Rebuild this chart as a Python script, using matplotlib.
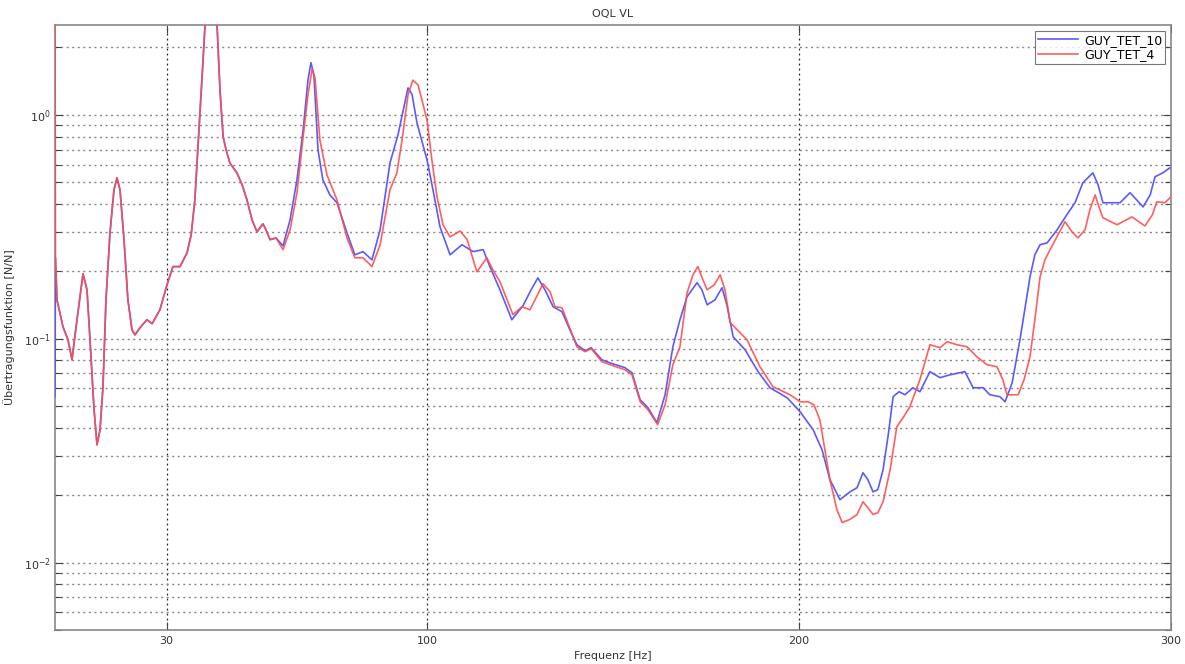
import matplotlib
matplotlib.use("Agg")
import matplotlib.pyplot as plt
from matplotlib.ticker import LogLocator, NullFormatter, FixedLocator

# ---------------- data ----------------
title_text = "OQL VL"
xlabel_text = "Frequenz [Hz]"
ylabel_text = "Übertragungsfunktion [N/N]"
series_names = ["GUY_TET_10", "GUY_TET_4"]
x_ticks = [30, 100, 200, 300]

# part shared by both measurements (0 .. ~61 Hz)
shared_f = [0.13, 0.54, 2.15, 3.49, 4.57, 5.91, 7.53, 8.6, 9.41, 10.5, 11.29, 12.1,
            12.9, 13.7, 14.78, 15.86, 16.67, 17.47, 18.55, 19.6, 20.7, 21.5, 22.85,
            24.7, 26.1, 28.2, 30.1, 31.7, 33.6, 35.5, 36.6, 37.6, 38.98, 39.8, 40.3,
            41.5, 43.5, 44.35, 45.2, 46.0, 47.0, 48.9, 50.3, 51.6, 52.96, 54.3, 55.9,
            56.7, 57.8, 59.4]
shared_v = [0.230, 0.149, 0.113, 0.099, 0.0806, 0.1216, 0.195, 0.1655, 0.099, 0.0482,
            0.0336, 0.0392, 0.0610, 0.149, 0.297, 0.463, 0.523, 0.463, 0.277, 0.149,
            0.1096, 0.104, 0.112, 0.1216, 0.1167, 0.1347, 0.174, 0.210, 0.210, 0.242,
            0.291, 0.417, 1.02, 1.76, 2.47, 6.0, 2.66, 1.29, 0.797, 0.698, 0.610,
            0.551, 0.487, 0.417, 0.340, 0.300, 0.326, 0.307, 0.277, 0.282]

blue_start_f = [0.0]
blue_start_v = [0.055]
blue_f = [61.3, 63.2, 65.05, 66.7, 68.0, 68.8, 69.6, 70.7, 72.0, 73.9, 75.8, 78.5,
          80.6, 82.8, 85.2, 87.4, 90.05, 92.2, 94.9, 96.0, 97.3, 100.0, 101.6, 103.5,
          106.2, 109.4, 112.4, 115.1, 116.9, 119.6, 122.8, 125.8, 128.0, 129.8,
          131.7, 133.9, 136.3, 138.4, 140.3, 142.5, 144.1, 147.0, 149.2, 153.2,
          155.1, 157.3, 159.4, 161.8, 164.0, 166.1, 168.0, 169.9, 172.6, 173.9,
          175.3, 177.4, 179.3, 180.6, 182.3, 185.5, 189.0, 192.2, 196.8, 200.3,
          203.8, 206.2, 208.3, 211.0, 213.7, 215.6, 217.2, 218.5, 219.9, 221.2,
          222.6, 224.0, 225.3, 226.9, 228.5, 230.6, 232.5, 235.2, 237.9, 240.6,
          244.6, 246.8, 249.5, 251.3, 254.0, 255.4, 257.3, 259.4, 262.1, 263.4,
          264.8, 266.7, 269.4, 272.0, 274.2, 276.3, 279.0, 280.4, 281.7, 286.3,
          289.0, 292.5, 294.4, 295.7, 297.8, 299.7]
blue_v = [0.260, 0.340, 0.513, 0.857, 1.43, 1.71, 1.51, 0.698, 0.513, 0.439, 0.405,
          0.297, 0.237, 0.245, 0.225, 0.307, 0.610, 0.814, 1.32, 1.23, 0.921, 0.630,
          0.463, 0.316, 0.237, 0.263, 0.245, 0.250, 0.210, 0.1655, 0.1216, 0.1404,
          0.1655, 0.187, 0.1655, 0.139, 0.132, 0.1096, 0.094, 0.0884, 0.0912, 0.0806,
          0.078, 0.0743, 0.0705, 0.0534, 0.0492, 0.0422, 0.0562, 0.0921, 0.1216,
          0.154, 0.178, 0.1655, 0.1418, 0.149, 0.169, 0.1418, 0.102, 0.0893, 0.0713,
          0.0604, 0.0545, 0.0472, 0.0392, 0.0319, 0.0235, 0.0191, 0.0207, 0.0216,
          0.0252, 0.0235, 0.0207, 0.0212, 0.0260, 0.0373, 0.0551, 0.058, 0.0562,
          0.0604, 0.058, 0.0713, 0.067, 0.069, 0.0713, 0.0604, 0.0604, 0.0562, 0.0551,
          0.0523, 0.0636, 0.099, 0.189, 0.237, 0.263, 0.268, 0.307, 0.358, 0.405,
          0.497, 0.551, 0.487, 0.405, 0.405, 0.449, 0.388, 0.439, 0.529, 0.551, 0.580]

red_start_f = [0.0]
red_start_v = [4.0]
red_f = [61.3, 63.2, 65.05, 66.7, 68.0, 69.1, 69.9, 71.2, 73.1, 75.8, 78.5, 80.6,
         82.8, 85.2, 87.4, 90.05, 91.9, 93.3, 94.9, 96.2, 97.6, 100.0, 101.3, 102.7,
         104.3, 106.2, 108.9, 110.8, 113.4, 116.1, 117.7, 119.6, 123.1, 125.5,
         127.7, 131.2, 133.1, 134.4, 136.3, 140.3, 142.5, 144.1, 147.0, 149.2,
         153.2, 155.1, 157.3, 159.4, 162.0, 164.0, 166.1, 168.0, 169.9, 171.5,
         172.8, 174.2, 175.3, 177.2, 178.8, 180.1, 181.5, 186.0, 189.5, 193.0,
         197.6, 200.3, 202.4, 204.0, 205.6, 208.3, 210.2, 211.6, 213.7, 215.6,
         217.2, 218.5, 219.9, 221.2, 222.6, 224.5, 226.3, 228.0, 229.8, 232.5,
         235.2, 237.9, 239.8, 242.5, 245.2, 247.8, 250.5, 253.2, 254.8, 255.9,
         258.9, 260.5, 262.1, 263.4, 264.8, 266.1, 267.5, 269.6, 271.5, 273.4,
         275.0, 276.9, 278.2, 279.6, 280.9, 281.7, 285.5, 289.5, 293.0, 295.0,
         296.2, 298.4, 299.7]
red_v = [0.250, 0.307, 0.449, 0.797, 1.23, 1.60, 1.46, 0.773, 0.540, 0.417, 0.282,
         0.230, 0.230, 0.210, 0.263, 0.463, 0.551, 0.773, 1.23, 1.43, 1.36, 0.950,
         0.630, 0.430, 0.323, 0.285, 0.303, 0.277, 0.199, 0.230, 0.203, 0.180, 0.128,
         0.139, 0.1347, 0.176, 0.162, 0.139, 0.1375, 0.092, 0.0875, 0.0905, 0.079,
         0.0766, 0.0727, 0.069, 0.0523, 0.0482, 0.0413, 0.0507, 0.0766, 0.092, 0.160,
         0.193, 0.210, 0.183, 0.1655, 0.174, 0.193, 0.1655, 0.118, 0.099, 0.075,
         0.061, 0.0562, 0.0523, 0.0523, 0.0507, 0.0435, 0.0235, 0.0172, 0.0151,
         0.0156, 0.0164, 0.0187, 0.0176, 0.0164, 0.0167, 0.0187, 0.0260, 0.0405,
         0.0444, 0.0497, 0.0656, 0.094, 0.0912, 0.097, 0.094, 0.092, 0.0831, 0.0766,
         0.075, 0.0656, 0.0562, 0.0562, 0.0656, 0.0831, 0.1216, 0.189, 0.225, 0.250,
         0.291, 0.333, 0.300, 0.282, 0.307, 0.377, 0.439, 0.377, 0.347, 0.323, 0.350,
         0.319, 0.358, 0.409, 0.405, 0.426]

# ---------------- figure ----------------
fig = plt.figure(figsize=(11.85, 6.64), dpi=100)
ax = fig.add_axes([55 / 1185, 1 - 630 / 664, (1171 - 55) / 1185, (630 - 25) / 664])

blue_color = "#5a5aff"
red_color = "#ff4d4d"

ax.plot(blue_start_f + shared_f + blue_f, blue_start_v + shared_v + blue_v,
        color=blue_color, lw=1.2, label=series_names[0], zorder=3)
ax.plot(red_start_f + shared_f + red_f, red_start_v + shared_v + red_v,
        color=red_color, lw=1.2, label=series_names[1], zorder=4, alpha=0.9)

ax.set_yscale("log")
ax.set_xlim(0, 300)
ax.set_ylim(0.005, 2.52)

ax.xaxis.set_major_locator(FixedLocator(x_ticks))
ax.set_xticklabels([str(t) for t in x_ticks])
ax.yaxis.set_major_locator(LogLocator(base=10, numticks=10))
ax.yaxis.set_minor_locator(LogLocator(base=10, subs=range(2, 10), numticks=20))
ax.yaxis.set_minor_formatter(NullFormatter())

ax.grid(True, which="both", axis="y", linestyle=(0, (1.5, 2.5)), color="#888888", lw=1.0)
ax.grid(True, which="major", axis="x", linestyle=(0, (1.5, 2.5)), color="#222222", lw=0.9)

ax.tick_params(axis="both", which="both", direction="in", top=True, right=True,
               labelsize=8, colors="#444444", labelcolor="#333333")
ax.tick_params(axis="both", which="major", length=6, width=0.8)
ax.tick_params(axis="y", which="minor", length=4, width=0.8)
ax.tick_params(axis="x", pad=4)
ax.tick_params(axis="y", pad=3)

for s in ax.spines.values():
    s.set_color("#888888")
    s.set_linewidth(1.2)

ax.set_title(title_text, fontsize=8, color="#333333", pad=6)
ax.set_xlabel(xlabel_text, fontsize=8, color="#333333", labelpad=4)
ax.set_ylabel(ylabel_text, fontsize=8, color="#333333", labelpad=4)
ax.yaxis.set_label_coords(-40 / 1116, 0.5)

leg = ax.legend(loc="upper right", fontsize=9, frameon=True, fancybox=False,
                borderpad=0.25, handlelength=3.2, handletextpad=0.5, labelspacing=0.1,
                borderaxespad=0.45)
leg.get_frame().set_edgecolor("#555555")
leg.get_frame().set_linewidth(0.8)

fig.savefig("out.png", dpi=100)
